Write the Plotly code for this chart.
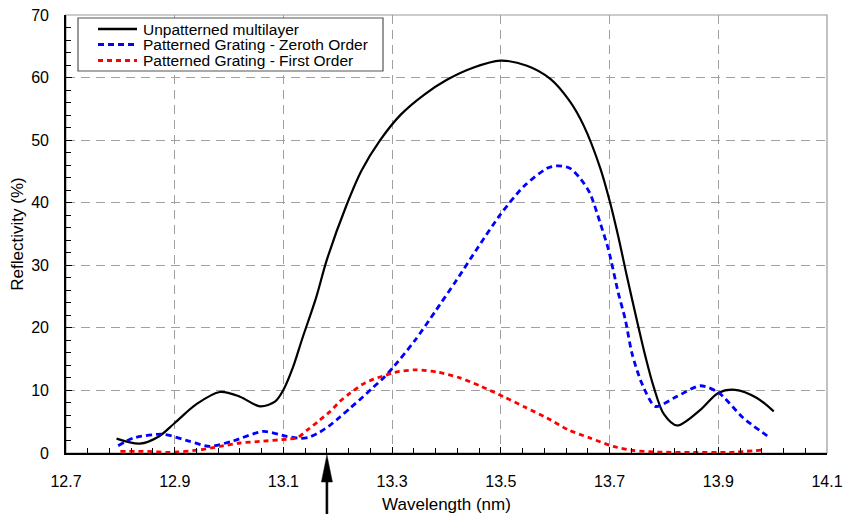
import plotly.graph_objects as go

# Unpatterned multilayer
wl_un = [12.793, 12.836, 12.87, 12.90, 12.94, 12.983, 13.02, 13.057, 13.085, 13.10, 13.118, 13.134, 13.16,
         13.18, 13.216, 13.244, 13.278, 13.315, 13.358, 13.40, 13.45, 13.499, 13.548, 13.591, 13.627,
         13.652, 13.683, 13.701, 13.716, 13.732, 13.75, 13.766, 13.781, 13.80, 13.824, 13.867, 13.90,
         13.931, 13.971, 14.002]
r_un = [2.3, 1.5, 2.6, 4.8, 7.8, 9.75, 9.0, 7.45, 8.25, 10.1, 13.8, 18.1, 24.8,
        30.9, 39.6, 45.2, 50.0, 54.0, 57.2, 59.6, 61.6, 62.7, 61.9, 59.8, 56.2,
        52.4, 45.5, 40.0, 34.6, 28.2, 21.3, 15.4, 10.6, 6.2, 4.4, 6.9, 9.6,
        10.1, 8.8, 6.65]

# Patterned grating - zeroth order
wl_z = [12.796, 12.824, 12.879, 12.928, 12.965, 13.008, 13.063, 13.106, 13.131, 13.146, 13.164, 13.183,
        13.204, 13.223, 13.244, 13.264, 13.284, 13.302, 13.342, 13.379, 13.419, 13.459, 13.499, 13.542,
        13.585, 13.606, 13.627, 13.646, 13.664, 13.683, 13.698, 13.716, 13.729, 13.741, 13.759, 13.784,
        13.824, 13.867, 13.90, 13.946, 13.99]
r_z = [1.15, 2.4, 3.0, 1.85, 1.05, 1.95, 3.45, 2.65, 2.35, 2.5, 3.2, 4.25,
       5.75, 7.2, 8.8, 10.4, 12.0, 13.7, 18.0, 22.6, 27.7, 33.0, 38.1, 42.6,
       45.5, 45.9, 45.5, 43.9, 41.5, 36.7, 32.5, 25.6, 21.3, 16.0, 11.2, 7.45,
       9.05, 10.75, 9.7, 5.6, 2.75]

# Patterned grating - first order
wl_f = [12.80, 12.85, 12.891, 12.947, 12.983, 13.02, 13.057, 13.106, 13.125, 13.143, 13.164, 13.186,
        13.204, 13.223, 13.244, 13.266, 13.287, 13.305, 13.345, 13.385, 13.425, 13.465, 13.505, 13.545,
        13.585, 13.624, 13.664, 13.707, 13.744, 13.787, 13.85, 13.92, 13.986]
r_f = [0.25, 0.25, 0.1, 0.5, 1.05, 1.6, 1.85, 2.2, 2.4, 3.6, 5.05, 6.65,
       8.25, 9.6, 10.9, 11.8, 12.4, 12.9, 13.3, 12.9, 12.0, 10.6, 9.0, 7.3,
       5.6, 3.7, 2.4, 1.05, 0.4, 0.15, 0.1, 0.1, 0.5]

series_names = ["Unpatterned multilayer", "Patterned Grating - Zeroth Order", "Patterned Grating - First Order"]
series_colors = ["black", "#0000ff", "#ff0000"]
series_dash = ["solid", "6px,4px", "5px,4px"]
series_width = [2.2, 2.8, 2.8]
series_smooth = [0.9, 0.7, 0.7]

x_ticks = [12.7, 12.9, 13.1, 13.3, 13.5, 13.7, 13.9, 14.1]
y_ticks = [0, 10, 20, 30, 40, 50, 60, 70]
arrow_wl = 13.18

FONT = "Liberation Sans, Arial, sans-serif"
W, H = 846, 514
ML, MR, MT, MB = 66, 19, 15, 61
PW, PH = W - ML - MR, H - MT - MB


def px_x(p):
    return (p - ML) / PW


def px_y(p):
    return (H - MB - p) / PH


fig = go.Figure()
for xs, ys, nm, c, d, w, s in zip([wl_un, wl_z, wl_f], [r_un, r_z, r_f], series_names,
                                  series_colors, series_dash, series_width, series_smooth):
    fig.add_trace(go.Scatter(x=xs, y=ys, mode="lines", name=nm, showlegend=False,
                             line=dict(color=c, width=w, dash=d, shape="spline", smoothing=s)))

shapes = [
    dict(type="rect", xref="paper", yref="paper", x0=0, y0=0, x1=1, y1=1,
         line=dict(color="#999999", width=1.2), layer="below"),
    # legend box
    dict(type="rect", xref="paper", yref="paper", x0=px_x(78), x1=px_x(383), y0=px_y(71), y1=px_y(18),
         line=dict(color="#555555", width=1.2), fillcolor="white", layer="above"),
    # arrow below the axis
    dict(type="path", xref="x", yref="paper", xsizemode="pixel", ysizemode="pixel",
         xanchor=arrow_wl, yanchor=0,
         path="M0,-2 L-5.5,-29 L-1,-29 L-1,-70 L1,-70 L1,-29 L5.5,-29 Z",
         fillcolor="black", line=dict(color="black", width=0.5)),
]
annotations = []
rows_y = [29, 44.5, 60.5]
for nm, c, d, w, ry in zip(series_names, series_colors, series_dash, series_width, rows_y):
    shapes.append(dict(type="line", xref="paper", yref="paper", x0=px_x(98), x1=px_x(137),
                       y0=px_y(ry), y1=px_y(ry), line=dict(color=c, width=w + 0.4, dash=d), layer="above"))
    annotations.append(dict(x=px_x(141), y=px_y(ry), xref="paper", yref="paper", text=nm,
                            showarrow=False, xanchor="left", yanchor="middle",
                            font=dict(size=15.5, family=FONT, color="black")))

fig.update_layout(
    width=W, height=H,
    margin=dict(l=ML, r=MR, t=MT, b=MB),
    plot_bgcolor="white", paper_bgcolor="white",
    font=dict(family=FONT, size=16, color="black"),
    showlegend=False,
    shapes=shapes,
    annotations=annotations,
)
fig.update_xaxes(
    range=[12.7, 14.1], tickvals=x_ticks, ticktext=[f"{v:.1f}" for v in x_ticks],
    ticks="inside", ticklen=6, tickcolor="black", ticklabelstandoff=13,
    minor=dict(dtick=0.04, tick0=12.7, ticks="inside", ticklen=5, tickcolor="black", showgrid=False),
    showgrid=True, gridcolor="#a0a0a0", griddash="9px,6px", gridwidth=1,
    showline=True, linecolor="black", linewidth=1.6, zeroline=False, automargin=False,
    title=dict(text="Wavelength (nm)", font=dict(size=17), standoff=10),
    tickfont=dict(size=16),
)
fig.update_yaxes(
    range=[0, 70], tickvals=y_ticks,
    ticks="inside", ticklen=6, tickcolor="black", ticklabelstandoff=12,
    minor=dict(dtick=2, tick0=0, ticks="inside", ticklen=5, tickcolor="black", showgrid=False),
    showgrid=True, gridcolor="#a0a0a0", griddash="9px,6px", gridwidth=1,
    showline=True, linecolor="black", linewidth=1.6, zeroline=False, automargin=False,
    title=dict(text="Reflectivity (%)", font=dict(size=17), standoff=3),
    tickfont=dict(size=16),
)

fig.write_html("out.html")
